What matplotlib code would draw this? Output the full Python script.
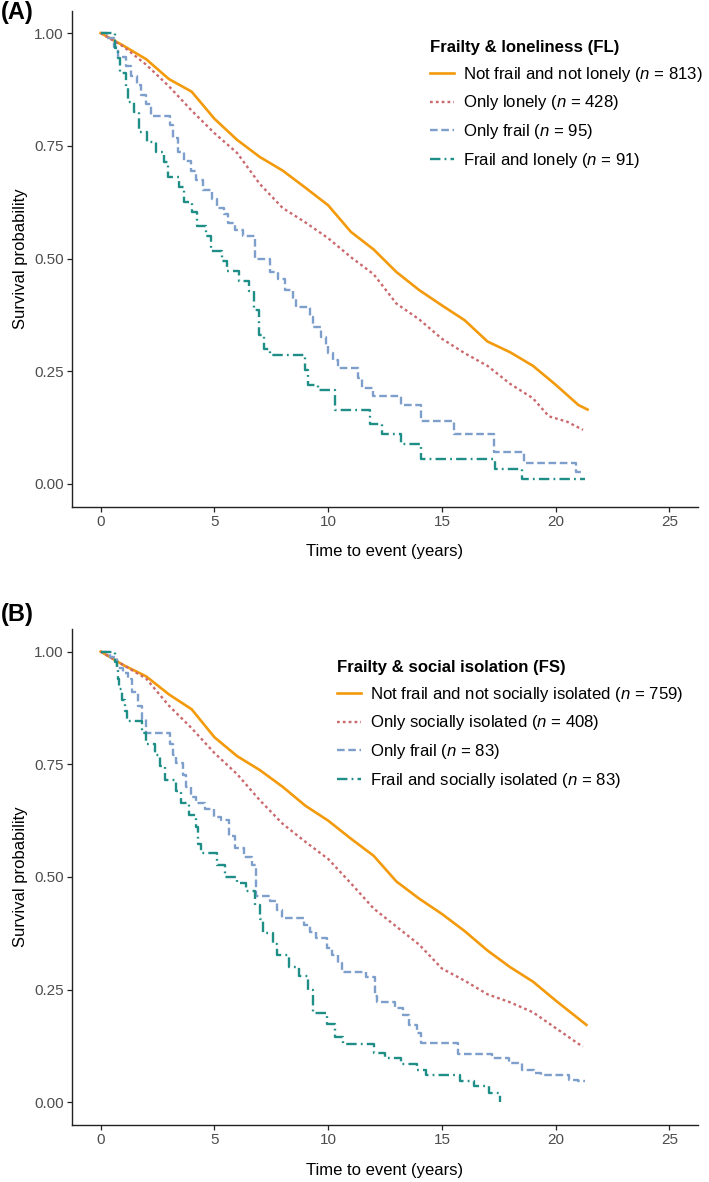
import matplotlib
matplotlib.use("Agg")
import matplotlib.pyplot as plt
from matplotlib.lines import Line2D

plt.rcParams['font.family'] = ['Liberation Sans', 'DejaVu Sans']
plt.rcParams['mathtext.fontset'] = 'custom'
plt.rcParams['mathtext.rm'] = 'Liberation Sans'
plt.rcParams['mathtext.it'] = 'Liberation Sans:italic'
plt.rcParams['lines.scale_dashes'] = False

# ---------------- Panel A data ----------------
years = [0, 1, 2, 3, 4, 5, 6, 7, 8, 9, 10, 11, 12, 13, 14, 15, 16, 17, 18, 19, 20, 21]
orange_A_t = years + [21.4]
orange_A_s = [1.0, 0.972, 0.942, 0.898, 0.87, 0.81, 0.763, 0.725, 0.695, 0.657, 0.618,
              0.559, 0.52, 0.47, 0.43, 0.396, 0.363, 0.316, 0.292, 0.262, 0.22, 0.175, 0.165]
red_A_t = [0, 1, 2, 3, 4, 5, 6, 7, 8, 9, 10, 11, 12, 13, 14, 15, 16, 17, 18, 19, 19.7, 20.5, 21.2]
red_A_s = [1.0, 0.97, 0.93, 0.882, 0.828, 0.778, 0.734, 0.665, 0.612, 0.58, 0.545, 0.503,
           0.465, 0.40, 0.365, 0.322, 0.29, 0.262, 0.222, 0.19, 0.15, 0.138, 0.12]
blue_A_t = [0, 0.3, 0.6, 0.75, 1.1, 1.35, 1.6, 1.78, 2.0, 2.2, 3.05, 3.2, 3.4, 3.65, 3.95,
            4.2, 4.5, 4.9, 5.1, 5.4, 5.6, 5.9, 6.25, 6.8, 7.45, 7.8, 8.1, 8.45, 8.6, 9.2,
            9.35, 9.7, 9.9, 10.0, 10.2, 10.45, 11.3, 11.5, 11.95, 13.2, 14.1, 15.55, 17.3,
            18.6, 20.9, 21.1]
blue_A_s = [1.0, 0.989, 0.968, 0.947, 0.926, 0.905, 0.884, 0.863, 0.842, 0.815, 0.795, 0.768,
            0.737, 0.716, 0.695, 0.674, 0.653, 0.632, 0.611, 0.598, 0.579, 0.564, 0.55, 0.50,
            0.47, 0.455, 0.43, 0.41, 0.393, 0.37, 0.347, 0.326, 0.305, 0.29, 0.274, 0.257,
            0.235, 0.212, 0.195, 0.175, 0.14, 0.111, 0.07, 0.046, 0.026, 0.026]
teal_A_t = [0, 0.62, 0.75, 0.85, 1.1, 1.2, 1.45, 1.7, 2.05, 2.43, 2.8, 2.95, 3.45, 3.67, 4.03,
            4.25, 4.63, 4.85, 5.33, 5.55, 6.08, 6.5, 6.73, 6.95, 7.2, 7.45, 9.0, 9.1, 9.57,
            10.3, 11.85, 12.35, 13.2, 14.1, 17.35, 18.5, 21.3]
teal_A_s = [1.0, 0.967, 0.945, 0.912, 0.879, 0.846, 0.824, 0.78, 0.758, 0.736, 0.714, 0.681,
            0.659, 0.626, 0.604, 0.571, 0.549, 0.516, 0.495, 0.473, 0.451, 0.429, 0.385, 0.33,
            0.30, 0.286, 0.253, 0.22, 0.209, 0.165, 0.132, 0.11, 0.088, 0.055, 0.033, 0.011, 0.011]

# ---------------- Panel B data ----------------
orange_B_t = years + [21.35]
orange_B_s = [1.0, 0.97, 0.945, 0.905, 0.872, 0.81, 0.768, 0.737, 0.70, 0.658, 0.625, 0.585,
              0.547, 0.49, 0.452, 0.418, 0.38, 0.337, 0.30, 0.268, 0.226, 0.186, 0.172]
red_B_t = years + [21.2]
red_B_s = [1.0, 0.97, 0.94, 0.88, 0.83, 0.775, 0.728, 0.67, 0.618, 0.578, 0.54, 0.486, 0.43,
           0.39, 0.35, 0.297, 0.27, 0.24, 0.222, 0.2, 0.165, 0.13, 0.124]
blue_B_t = [0, 0.4, 0.7, 1.0, 1.2, 1.38, 1.65, 1.8, 2.0, 3.05, 3.2, 3.3, 3.6, 3.75, 3.95, 4.2,
            4.6, 5.0, 5.3, 5.65, 5.9, 6.3, 6.65, 6.85, 7.45, 7.75, 7.95, 8.95, 9.2, 9.45,
            9.95, 10.15, 10.45, 10.6, 11.65, 12.05, 12.15, 12.95, 13.3, 13.55, 13.9, 14.1,
            15.7, 17.2, 17.95, 18.5, 19.05, 19.35, 20.6, 21.0, 21.3]
blue_B_s = [1.0, 0.988, 0.964, 0.952, 0.94, 0.91, 0.88, 0.85, 0.82, 0.795, 0.77, 0.753, 0.727,
            0.70, 0.678, 0.664, 0.651, 0.634, 0.627, 0.59, 0.565, 0.545, 0.527, 0.457, 0.446,
            0.427, 0.41, 0.394, 0.378, 0.365, 0.343, 0.327, 0.31, 0.289, 0.279, 0.236, 0.222,
            0.21, 0.194, 0.172, 0.155, 0.132, 0.108, 0.099, 0.088, 0.072, 0.066, 0.061, 0.05,
            0.047, 0.047]
teal_B_t = [0, 0.63, 0.7, 0.75, 0.8, 0.95, 1.07, 1.15, 1.8, 2.0, 2.4, 2.6, 2.85, 3.3, 3.55,
            3.9, 4.2, 4.3, 4.4, 5.1, 5.46, 6.0, 6.4, 6.78, 7.0, 7.15, 7.58, 7.75, 8.3, 8.7,
            9.1, 9.35, 9.95, 10.3, 10.65, 12.0, 12.5, 13.2, 13.9, 14.3, 15.8, 16.4, 17.05, 17.55]
teal_B_s = [1.0, 0.976, 0.964, 0.94, 0.916, 0.892, 0.868, 0.845, 0.82, 0.795, 0.771, 0.747,
            0.716, 0.69, 0.664, 0.638, 0.61, 0.574, 0.553, 0.527, 0.50, 0.487, 0.469, 0.438,
            0.407, 0.376, 0.352, 0.327, 0.30, 0.28, 0.25, 0.198, 0.175, 0.146, 0.13, 0.11,
            0.099, 0.086, 0.073, 0.061, 0.047, 0.037, 0.022, 0.0]

labels_A = [r"Not frail and not lonely ($\mathit{n}$ = 813)",
            r"Only lonely ($\mathit{n}$ = 428)",
            r"Only frail ($\mathit{n}$ = 95)",
            r"Frail and lonely ($\mathit{n}$ = 91)"]
labels_B = [r"Not frail and not socially isolated ($\mathit{n}$ = 759)",
            r"Only socially isolated ($\mathit{n}$ = 408)",
            r"Only frail ($\mathit{n}$ = 83)",
            r"Frail and socially isolated ($\mathit{n}$ = 83)"]
title_A = "Frailty & loneliness (FL)"
title_B = "Frailty & social isolation (FS)"
x_ticks = [0, 5, 10, 15, 20, 25]
y_ticks = [0.0, 0.25, 0.5, 0.75, 1.0]
y_ticklabels = ["0.00", "0.25", "0.50", "0.75", "1.00"]

C_OR = "#F39A0B"
C_RD = "#CB6A6E"
C_BL = "#7E9FCB"
C_TL = "#1F8E87"

styles = [
    dict(color=C_OR, lw=1.9, ls='-'),
    dict(color=C_RD, lw=1.7, ls=(0, (2.0, 2.2))),
    dict(color=C_BL, lw=1.7, ls=(0, (5.5, 2.6))),
    dict(color=C_TL, lw=1.7, ls=(0, (7.5, 3.0, 1.3, 3.0))),
]

W, H = 709, 1182
fig = plt.figure(figsize=(W / 100, H / 100), dpi=100)

def px_to_fig(x, y):
    return x / W, 1 - y / H

def make_panel(rect, series, labels, title, leg_xy, tag, tag_y):
    ax = fig.add_axes(rect)
    (ot, os_), (rt, rs), (bt, bs), (tt, ts) = series
    ax.plot(ot, os_, **styles[0])
    ax.plot(rt, rs, **styles[1])
    ax.step(bt, bs, where='post', **styles[2])
    ax.step(tt, ts, where='post', **styles[3])
    ax.set_xlim(-1.25, 26.25)
    ax.set_ylim(-0.05, 1.05)
    ax.set_xticks(x_ticks)
    ax.set_yticks(y_ticks)
    ax.set_yticklabels(y_ticklabels)
    for s in ['top', 'right']:
        ax.spines[s].set_visible(False)
    for s in ['left', 'bottom']:
        ax.spines[s].set_linewidth(1.0)
        ax.spines[s].set_color('#222222')
    ax.tick_params(axis='both', length=3.6, width=0.9, color='#222222',
                   labelsize=11, labelcolor='#4D4D4D', pad=2.5)
    ax.set_xlabel("Time to event (years)", fontsize=12, color='black')
    ax.set_ylabel("Survival probability", fontsize=12, color='black')
    ax.xaxis.set_label_coords(0.5, -0.091)
    ax.xaxis.label.set_va('center')
    ax.yaxis.set_label_coords(-0.082, 0.5)
    ax.yaxis.label.set_va('center')
    handles = [Line2D([0], [0], **st) for st in styles]
    fx, fy = px_to_fig(*leg_xy)
    ax.legend(handles, labels, title=title, loc='upper left',
              bbox_to_anchor=(fx, fy), bbox_transform=fig.transFigure,
              frameon=False, fontsize=12.1, borderpad=0, borderaxespad=0,
              handlelength=1.4, handletextpad=0.58, labelspacing=0.58,
              alignment='left',
              title_fontproperties={'weight': 'bold', 'size': 12.1})
    tx, ty = px_to_fig(1, tag_y)
    fig.text(tx, ty, tag, fontsize=17, fontweight='bold', ha='left', va='center')
    return ax

rectA = [72.2 / W, 1 - 506.5 / H, 625.7 / W, 496 / H]
rectB = [72.2 / W, 1 - 1125 / H, 625.7 / W, 496 / H]

make_panel(rectA, [(orange_A_t, orange_A_s), (red_A_t, red_A_s), (blue_A_t, blue_A_s),
                   (teal_A_t, teal_A_s)], labels_A, title_A, (430, 40), "(A)", 12)
make_panel(rectB, [(orange_B_t, orange_B_s), (red_B_t, red_B_s), (blue_B_t, blue_B_s),
                   (teal_B_t, teal_B_s)], labels_B, title_B, (337, 660), "(B)", 614)

fig.savefig("out.png", dpi=100)
